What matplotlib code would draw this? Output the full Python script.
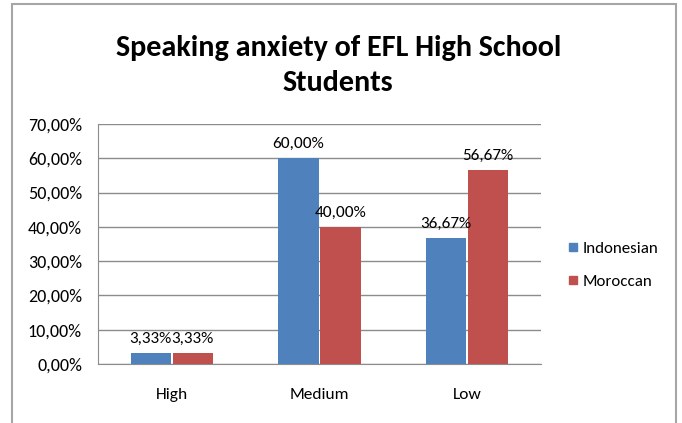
import matplotlib.pyplot as plt
import numpy as np
from matplotlib.lines import Line2D
from matplotlib.patches import Rectangle

# Data
categories = ["High", "Medium", "Low"]
indonesian = [3.33, 60.00, 36.67]
moroccan = [3.33, 40.00, 56.67]
series_names = ["Indonesian", "Moroccan"]
yticks = [0, 10, 20, 30, 40, 50, 60, 70]

BLUE = "#4F81BD"
RED = "#C0504D"
GRID = "#8C8C8C"

plt.rcParams["font.family"] = ["Carlito", "Liberation Sans Narrow", "DejaVu Sans"]


def pct(v):
    return f"{v:.2f}%".replace(".", ",")


fig = plt.figure(figsize=(6.82, 4.23), dpi=100)
ax = fig.add_axes([0.1437, 0.1395, 0.6496, 0.5674])

x = np.arange(len(categories))
w = 0.272
off = 0.142
b1 = ax.bar(x - off, indonesian, w, color=BLUE, zorder=3)
b2 = ax.bar(x + off, moroccan, w, color=RED, zorder=3)

# data labels
for bars, vals in ((b1, indonesian), (b2, moroccan)):
    for rect, v in zip(bars, vals):
        ax.annotate(pct(v), (rect.get_x() + rect.get_width() / 2, v),
                    xytext=(0, 5), textcoords="offset points",
                    ha="center", va="bottom", fontsize=12.3, color="#000000")

ax.set_xlim(-0.5, 2.5)
ax.set_ylim(0, 70)
ax.set_yticks(yticks)
ax.set_yticklabels([pct(t) for t in yticks])
ax.set_xticks(x)
ax.set_xticklabels(categories)
ax.tick_params(axis="y", length=0, pad=11.5, labelsize=13)
ax.tick_params(axis="x", length=0, pad=17, labelsize=12.5)
ax.grid(axis="y", color=GRID, linewidth=1, zorder=0)
for side in ("top", "right"):
    ax.spines[side].set_visible(False)
ax.spines["left"].set_color(GRID)
ax.spines["bottom"].set_color(GRID)

# title
fig.text(0.496, 0.8865, "Speaking anxiety of EFL High School", ha="center",
         va="center", fontsize=21.7, fontweight="bold")
fig.text(0.496, 0.803, "Students", ha="center", va="center",
         fontsize=21.7, fontweight="bold")

# legend
handles = [Line2D([], [], marker="s", linestyle="none", markersize=6,
                  markerfacecolor=c, markeredgecolor=c) for c in (BLUE, RED)]
fig.legend(handles, series_names, loc="center left",
           bbox_to_anchor=(0.807, 0.3735), frameon=False, fontsize=12.2,
           handletextpad=0.1, labelspacing=1.05, handlelength=0.9)

# chart border
fig.patches.append(Rectangle((12 / 682, -0.05), (676 - 12) / 682, 1.05 - 4 / 423,
                             transform=fig.transFigure, fill=False,
                             edgecolor="#A6A6A6", linewidth=1.5))

fig.savefig("out.png", dpi=100)
